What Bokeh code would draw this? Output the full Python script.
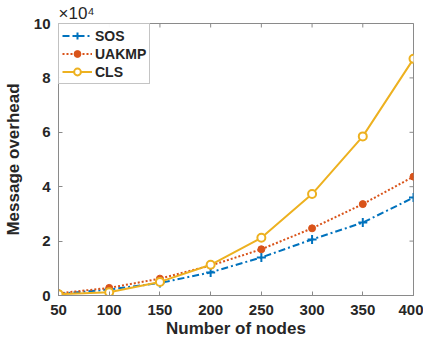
import math
from bokeh.plotting import figure
from bokeh.models import Range1d, FixedTicker, CustomJSTickFormatter, Legend, LegendItem
from bokeh.embed import file_html
from bokeh.resources import INLINE

nodes = [50, 100, 150, 200, 250, 300, 350, 400]
sos = [600, 2200, 4600, 8500, 14000, 20600, 26800, 36000]
uakmp = [800, 2800, 6200, 11000, 17000, 24700, 33600, 43700]
cls = [500, 1200, 5000, 11300, 21200, 37300, 58500, 87000]
x_ticks = [50, 100, 150, 200, 250, 300, 350, 400]
y_ticks = [0, 20000, 40000, 60000, 80000, 100000]
X_MIN, X_MAX = 50, 400
Y_MIN, Y_MAX = 0, 100000

FONT = "Liberation Sans"
AX = "#8a8a8a"
TXT = "#262626"

p = figure(width=423, height=347, output_backend="svg", toolbar_location=None,
           x_range=Range1d(X_MIN, X_MAX), y_range=Range1d(Y_MIN, Y_MAX),
           min_border_left=53, min_border_right=10, min_border_top=22,
           min_border_bottom=52)
p.grid.visible = False
p.outline_line_color = AX
p.background_fill_color = "white"

p.title.text = "×10⁴"
p.title.text_font = FONT
p.title.text_font_style = "normal"
p.title.text_font_size = "17px"
p.title.text_color = TXT
p.title.align = "left"
p.title.offset = 0
p.title.standoff = 2

fmt = CustomJSTickFormatter(code="return (tick/1e4).toFixed(0);")
for ax in p.xaxis + p.yaxis:
    ax.major_tick_in = 4
    ax.major_tick_out = 0
    ax.minor_tick_line_color = None
    ax.axis_line_color = AX
    ax.major_tick_line_color = AX
    ax.major_label_text_font = FONT
    ax.major_label_text_font_style = "bold"
    ax.major_label_text_font_size = "15px"
    ax.major_label_text_color = TXT
    ax.axis_label_text_font = FONT
    ax.axis_label_text_font_style = "bold"
    ax.axis_label_text_font_size = "17px"
    ax.axis_label_text_color = TXT
p.xaxis.ticker = FixedTicker(ticks=x_ticks)
p.yaxis.ticker = FixedTicker(ticks=y_ticks)
p.yaxis.formatter = fmt
p.xaxis.axis_label = "Number of nodes"
p.yaxis.axis_label = "Message overhead"
p.xaxis.major_label_standoff = 9
p.xaxis.axis_label_standoff = 1
p.yaxis.major_label_standoff = 8
p.yaxis.axis_label_standoff = 8

# inward ticks on the top and right edges of the box
p.scatter(x_ticks, [Y_MAX] * len(x_ticks), marker="dash", angle=math.pi / 2,
          size=8, line_color=AX, line_width=1)
p.scatter([X_MAX] * len(y_ticks), y_ticks, marker="dash", size=8,
          line_color=AX, line_width=1)

r1 = p.line(nodes, sos, color="#0072BD", line_width=2, line_dash="7 3 2 3")
m1 = p.scatter(nodes, sos, marker="cross", size=9, line_color="#0072BD", line_width=2)
r2 = p.line(nodes, uakmp, color="#D95319", line_width=2, line_dash="2 2")
m2 = p.scatter(nodes, uakmp, marker="circle", size=7, fill_color="#D95319",
               line_color="#D95319")
r3 = p.line(nodes, cls, color="#EDB120", line_width=2)
m3 = p.scatter(nodes, cls, marker="circle", size=8, fill_color="white",
               line_color="#EDB120", line_width=2)

legend = Legend(items=[LegendItem(label="SOS", renderers=[r1, m1]),
                       LegendItem(label="UAKMP", renderers=[r2, m2]),
                       LegendItem(label="CLS", renderers=[r3, m3])],
                location="top_left", margin=0, padding=3, spacing=1,
                glyph_width=30, glyph_height=17, label_standoff=3,
                label_text_font=FONT, label_text_font_style="bold",
                label_text_font_size="14px", label_text_color=TXT,
                border_line_color=AX, border_line_width=1)
p.add_layout(legend)

open("out.html", "w").write(file_html(p, INLINE))
